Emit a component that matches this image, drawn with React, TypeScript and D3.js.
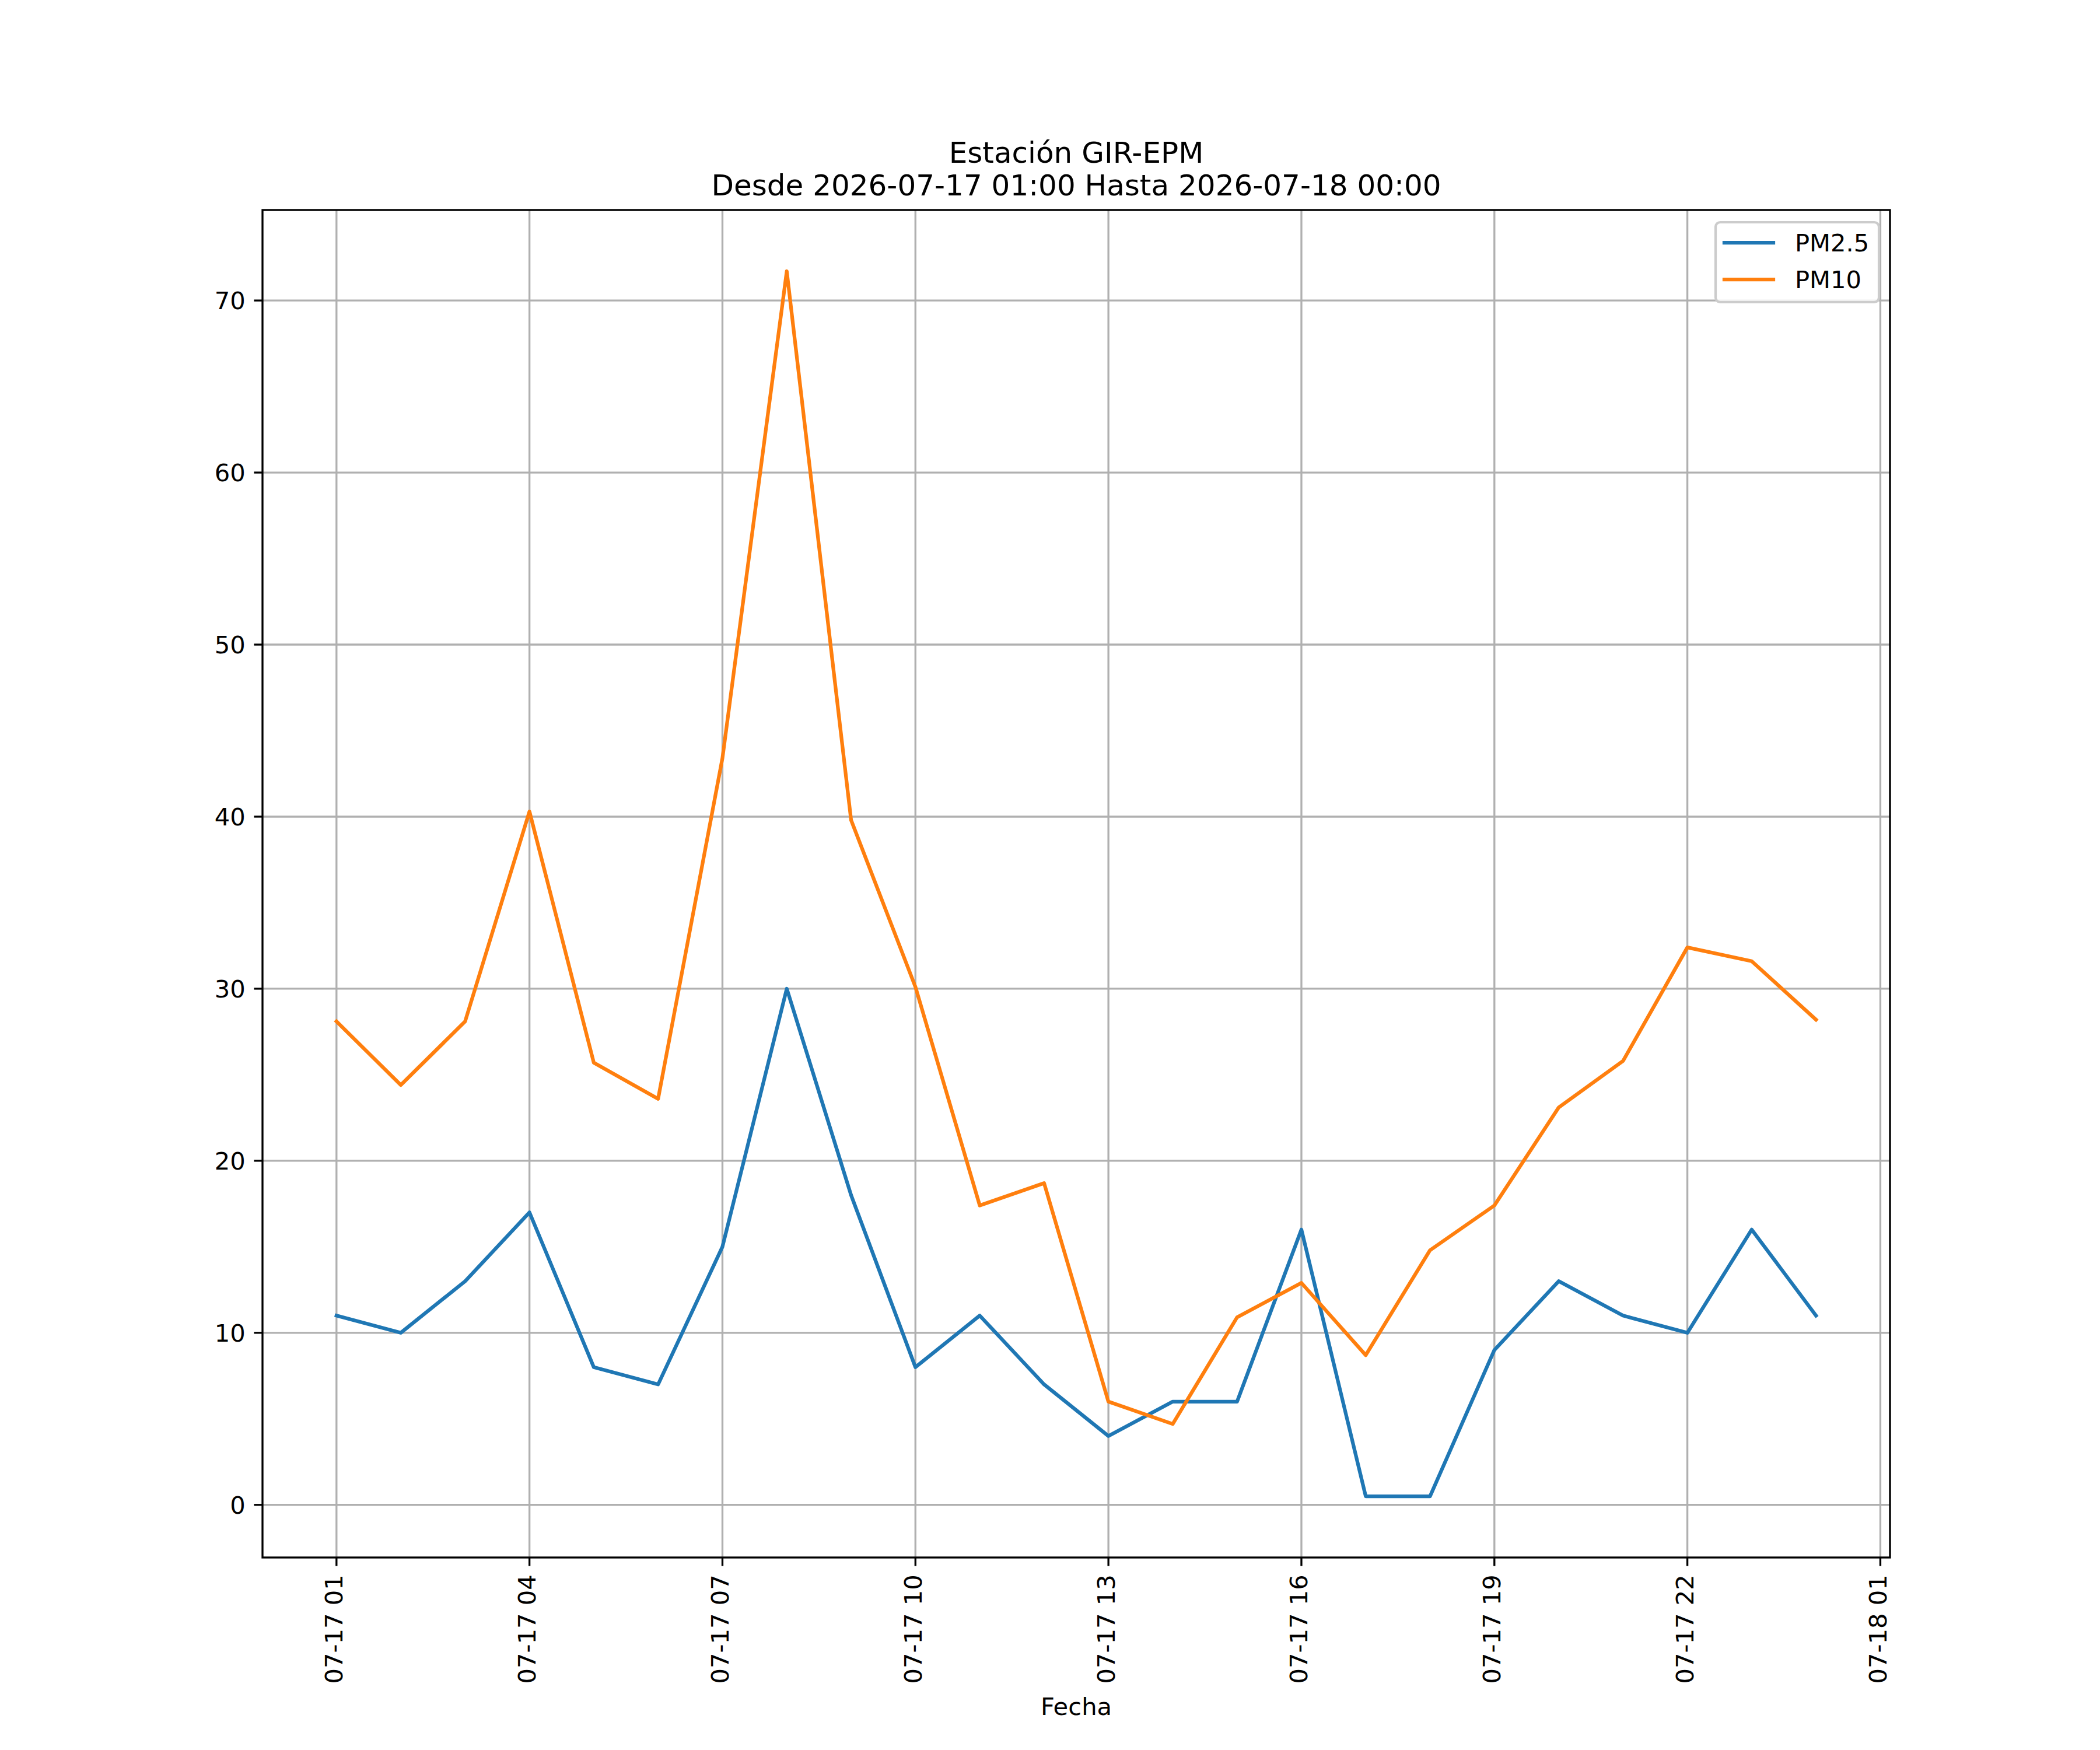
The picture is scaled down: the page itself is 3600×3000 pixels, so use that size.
import React from "react";
import * as d3 from "d3";

const times: string[] = [
  "2026-07-17T01:00:00Z", "2026-07-17T02:00:00Z", "2026-07-17T03:00:00Z", "2026-07-17T04:00:00Z",
  "2026-07-17T05:00:00Z", "2026-07-17T06:00:00Z", "2026-07-17T07:00:00Z", "2026-07-17T08:00:00Z",
  "2026-07-17T09:00:00Z", "2026-07-17T10:00:00Z", "2026-07-17T11:00:00Z", "2026-07-17T12:00:00Z",
  "2026-07-17T13:00:00Z", "2026-07-17T14:00:00Z", "2026-07-17T15:00:00Z", "2026-07-17T16:00:00Z",
  "2026-07-17T17:00:00Z", "2026-07-17T18:00:00Z", "2026-07-17T19:00:00Z", "2026-07-17T20:00:00Z",
  "2026-07-17T21:00:00Z", "2026-07-17T22:00:00Z", "2026-07-17T23:00:00Z", "2026-07-18T00:00:00Z",
];

const pm25: number[] = [11, 10, 13, 17, 8, 7, 15, 30, 18, 8, 11, 7, 4, 6, 6, 16, 0.5, 0.5, 9, 13, 11, 10, 16, 11];
const pm10: number[] = [28.1, 24.4, 28.1, 40.3, 25.7, 23.6, 43.4, 71.7, 39.8, 30.1, 17.4, 18.7, 6.0, 4.7, 10.9, 12.9, 8.7, 14.8, 17.4, 23.1, 25.8, 32.4, 31.6, 28.2];

const xTicks: string[] = [
  "2026-07-17T01:00:00Z", "2026-07-17T04:00:00Z", "2026-07-17T07:00:00Z", "2026-07-17T10:00:00Z",
  "2026-07-17T13:00:00Z", "2026-07-17T16:00:00Z", "2026-07-17T19:00:00Z", "2026-07-17T22:00:00Z",
  "2026-07-18T01:00:00Z",
];
const yTicks: number[] = [0, 10, 20, 30, 40, 50, 60, 70];

const seriesNames = ["PM2.5", "PM10"];
const seriesColors = ["#1f77b4", "#ff7f0e"];

const W = 3600;
const H = 3000;
const L = 450, R = 3240, T = 360, B = 2670;
const FONT = "DejaVu Sans, sans-serif";
const FS = 41.67;

export default function App() {
  const dates = times.map((t) => new Date(t));
  const t0 = dates[0].getTime();
  const t1 = dates[dates.length - 1].getTime();
  const tm = (t1 - t0) * 0.05;
  const x = d3.scaleUtc().domain([new Date(t0 - tm), new Date(t1 + tm)]).range([L, R]);

  const all = [...pm25, ...pm10];
  const ymin = d3.min(all)!;
  const ymax = d3.max(all)!;
  const ym = (ymax - ymin) * 0.05;
  const y = d3.scaleLinear().domain([ymin - ym, ymax + ym]).range([B, T]);

  const fmt = d3.utcFormat("%m-%d %H");
  const line = d3
    .line<number>()
    .x((_, i) => x(dates[i]))
    .y((v) => y(v));

  const series = [pm25, pm10];
  const gridColor = "#b0b0b0";
  const gw = 3.33;

  return (
    <svg width={W} height={H} style={{ display: "block", position: "absolute", left: 0, top: 0, background: "#fff" }} fontFamily={FONT}>
      <rect x={0} y={0} width={W} height={H} fill="#fff" />
      <g>
        {xTicks.map((t) => {
          const xx = x(new Date(t));
          return <line key={"gx" + t} x1={xx} x2={xx} y1={T} y2={B} stroke={gridColor} strokeWidth={gw} />;
        })}
        {yTicks.map((v) => (
          <line key={"gy" + v} x1={L} x2={R} y1={y(v)} y2={y(v)} stroke={gridColor} strokeWidth={gw} />
        ))}
      </g>
      <defs>
        <clipPath id="plotclip">
          <rect x={L} y={T} width={R - L} height={B - T} />
        </clipPath>
      </defs>
      <g clipPath="url(#plotclip)">
        {series.map((s, i) => (
          <path
            key={seriesNames[i]}
            d={line(s) || ""}
            fill="none"
            stroke={seriesColors[i]}
            strokeWidth={6.25}
            strokeLinejoin="round"
            strokeLinecap="square"
          />
        ))}
      </g>
      <rect x={L} y={T} width={R - L} height={B - T} fill="none" stroke="#000" strokeWidth={3.33} strokeLinejoin="miter" />
      {yTicks.map((v) => (
        <g key={"yt" + v}>
          <line x1={L} x2={L - 14.58} y1={y(v)} y2={y(v)} stroke="#000" strokeWidth={3.33} />
          <text x={L - 29.2} y={y(v)} dy="0.36em" textAnchor="end" fontSize={FS} fill="#000">
            {v}
          </text>
        </g>
      ))}
      {xTicks.map((t) => {
        const xx = x(new Date(t));
        return (
          <g key={"xt" + t}>
            <line x1={xx} x2={xx} y1={B} y2={B + 14.58} stroke="#000" strokeWidth={3.33} />
            <text
              transform={`translate(${xx},${B + 29.2}) rotate(-90)`}
              textAnchor="end"
              dy="0.25em"
              fontSize={FS}
              fill="#000"
            >
              {fmt(new Date(t))}
            </text>
          </g>
        );
      })}
      <text x={(L + R) / 2} y={2940} textAnchor="middle" fontSize={FS} fill="#000">
        Fecha
      </text>
      <text x={(L + R) / 2} textAnchor="middle" fontSize={50} fill="#000">
        <tspan x={(L + R) / 2} y={279}>Estación GIR-EPM</tspan>
        <tspan x={(L + R) / 2} y={335}>Desde 2026-07-17 01:00 Hasta 2026-07-18 00:00</tspan>
      </text>
      <g>
        <rect x={2941} y={381} width={280} height={137} rx={8} ry={8} fill="#fff" fillOpacity={0.8} stroke="#cccccc" strokeWidth={4.17} />
        {seriesNames.map((n, i) => {
          const cy = 416 + i * 63;
          return (
            <g key={"lg" + n}>
              <line x1={2956} x2={3040} y1={cy} y2={cy} stroke={seriesColors[i]} strokeWidth={6.25} strokeLinecap="square" />
              <text x={3077} y={cy} dy="0.36em" fontSize={FS} fill="#000">
                {n}
              </text>
            </g>
          );
        })}
      </g>
    </svg>
  );
}
